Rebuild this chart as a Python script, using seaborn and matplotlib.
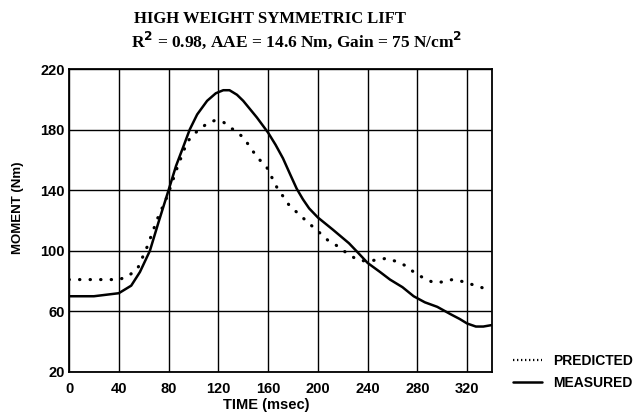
import numpy as np
import pandas as pd
import matplotlib
matplotlib.use("Agg")
import matplotlib.pyplot as plt
import seaborn as sns
from matplotlib.lines import Line2D

# measured moment (solid)
meas_t = [0, 20, 40, 50, 57, 65, 72, 80, 86, 92, 97, 103, 111, 118, 124, 129, 135, 140,
          151, 160, 166, 172, 178, 183, 188, 193, 200, 212, 225, 232, 240, 250, 258, 268, 277, 286,
          296, 307, 314, 320, 327, 333, 340]
meas_v = [70, 70, 72, 77, 86, 100, 119, 140, 156, 169, 180, 190, 199, 204, 206, 206, 203, 199,
          188, 178, 170, 161, 150, 141, 134, 128, 122, 114, 105, 99, 92, 86, 81, 76, 70, 66,
          63, 58, 55, 52, 50, 50, 51]

# predicted moment (dotted)
pred_t = [0, 20, 40, 47, 55, 63, 71, 79, 87, 95, 103, 111, 117, 124, 132, 140, 151, 159,
          167, 172, 177, 185, 193, 200, 208, 216, 224, 232, 240, 247, 255, 263, 271, 277,
          285, 293, 301, 308, 315, 323, 331, 334]
pred_v = [81, 81, 81, 83, 88, 103, 121, 136, 155, 172, 179, 184, 186, 185, 180, 175, 162, 155,
          142, 136, 130, 124, 118, 113, 107, 103, 98, 94, 93, 94, 95, 93, 90, 86,
          82, 79, 79.5, 81, 80, 78, 76, 75]

x_ticks = list(range(0, 321, 40))
y_ticks = list(range(20, 221, 40))

meas = pd.DataFrame({"t": meas_t, "v": meas_v})
pred = pd.DataFrame({"t": pred_t, "v": pred_v})

sns.set_style("white")
plt.rcParams["font.family"] = ["Liberation Sans", "DejaVu Sans"]
plt.rcParams["text.color"] = "black"
plt.rcParams["axes.labelcolor"] = "black"
plt.rcParams["xtick.color"] = "black"
plt.rcParams["ytick.color"] = "black"

fig = plt.figure(figsize=(6.42, 4.19), dpi=100)
ax = fig.add_axes([0.1075, 0.1122, 0.6589, 0.7231])

sns.lineplot(data=pred, x="t", y="v", ax=ax, color="black", linewidth=2.3,
             linestyle=(0, (0.1, 3.2)), dash_capstyle="round", sort=False)
sns.lineplot(data=meas, x="t", y="v", ax=ax, color="black", linewidth=1.8, sort=False)

ax.set_xlim(0, 340)
ax.set_ylim(20, 220)
ax.set_xticks(x_ticks)
ax.set_yticks(y_ticks)
ax.grid(True, color="black", linewidth=1.0)
for s in ax.spines.values():
    s.set_visible(True)
    s.set_color("black")
    s.set_linewidth(1.3)
ax.tick_params(axis="x", length=0, pad=7, labelsize=10.5)
ax.tick_params(axis="y", length=0, pad=3, labelsize=10.5)
for lab in ax.get_xticklabels() + ax.get_yticklabels():
    lab.set_fontweight("bold")

ax.set_xlabel("TIME (msec)", fontsize=10.5, fontweight="bold", va="center")
ax.set_ylabel("MOMENT (Nm)", fontsize=9.5, fontweight="bold", va="center")
ax.xaxis.set_label_coords((266 - 69) / 423, -(405 - 372) / 303)
ax.yaxis.set_label_coords(-(69 - 18) / 423, (372 - 208) / 303)

serif = ["Liberation Serif", "DejaVu Serif"]
fig.text(270 / 642, 1 - 19 / 419, "HIGH WEIGHT SYMMETRIC LIFT", ha="center", va="center",
         fontsize=12, fontweight="bold", family=serif)
fig.text(297 / 642, 1 - 40 / 419,
         r"R$^{\mathbf{2}}$ = 0.98, AAE = 14.6 Nm, Gain = 75 N/cm$^{\mathbf{2}}$",
         ha="center", va="center", fontsize=12.5, fontweight="bold", family=serif)

handles = [Line2D([], [], color="black", linewidth=1.6, linestyle=(0, (0.6, 1.2))),
           Line2D([], [], color="black", linewidth=1.8)]
leg = fig.legend(handles, ["PREDICTED", "MEASURED"], loc="center left",
                 bbox_to_anchor=(513 / 642, 1 - 372 / 419), frameon=False, borderpad=0,
                 borderaxespad=0, handlelength=2.1, handletextpad=0.8, labelspacing=0.55,
                 prop={"weight": "bold", "size": 10})

fig.savefig("out.png", dpi=100)
